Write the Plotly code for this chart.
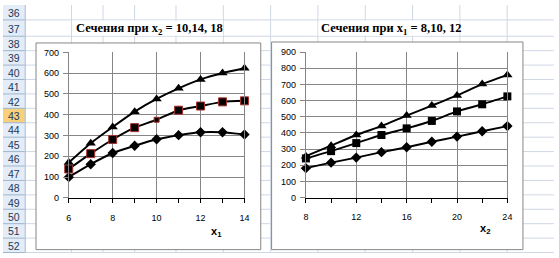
import plotly.graph_objects as go

W, H = 559, 258

# ---- data ----
# Left chart: sections at x2 = 10, 14, 18 ; argument x1
x1_vals = [6, 7, 8, 9, 10, 11, 12, 13, 14]
y_x2_10 = [100, 162, 216, 251, 282, 302, 316, 316, 305]
y_x2_14 = [139, 213, 281, 338, 376, 422, 442, 462, 467]
y_x2_18 = [170, 263, 341, 415, 476, 527, 570, 601, 624]

# Right chart: sections at x1 = 8, 10, 12 ; argument x2
x2_vals = [8, 10, 12, 14, 16, 18, 20, 22, 24]
y_x1_8 = [182, 216, 247, 281, 311, 345, 377, 410, 442]
y_x1_10 = [242, 287, 337, 387, 428, 474, 533, 577, 626]
y_x1_12 = [256, 321, 387, 442, 507, 569, 632, 702, 759]

row_numbers = list(range(36, 53))
selected_row = 43
title_left = "<b>Сечения при x<sub>2</sub> = 10,14, 18</b>"
title_right = "<b>Сечения при x<sub>1</sub> = 8,10, 12</b>"
xlabel_left = "<b>x<sub>1</sub></b>"
xlabel_right = "<b>x<sub>2</sub></b>"


def px(x):
    return x / W


def py(y):
    return 1 - y / H


shapes = []
GRID = "#d0d7e5"
HDR = "#9eb6ce"

# spreadsheet row boundaries
row_bounds = [0, 15.5, 32.5] + [32.5 + 15 * k for k in range(1, 16)]
col_lines = [69.5, 101.5, 133.5, 175.5, 223.5, 271.5, 319.5, 367.5, 415.5, 463.5, 511.5]

for x in col_lines:
    shapes.append(dict(type="line", xref="paper", yref="paper", x0=px(x), x1=px(x),
                       y0=py(0), y1=py(H), line=dict(color=GRID, width=1), layer="below"))
for y in row_bounds[1:]:
    shapes.append(dict(type="line", xref="paper", yref="paper", x0=px(22), x1=px(W),
                       y0=py(y), y1=py(y), line=dict(color=GRID, width=1), layer="below"))

# overflowing title text hides cell gridlines in row 37
for (a, b) in [(70, 223), (320, 463)]:
    shapes.append(dict(type="rect", xref="paper", yref="paper", x0=px(a), x1=px(b),
                       y0=py(16), y1=py(32), fillcolor="white", line=dict(width=0), layer="below"))

# row header column
shapes.append(dict(type="rect", xref="paper", yref="paper", x0=px(0), x1=px(22),
                   y0=py(0), y1=py(H), fillcolor="#e4ecf7", line=dict(width=0), layer="below"))
ri = selected_row - 36
shapes.append(dict(type="rect", xref="paper", yref="paper", x0=px(0), x1=px(22),
                   y0=py(row_bounds[ri]), y1=py(row_bounds[ri + 1]),
                   fillcolor="#f8cf7a", line=dict(width=0), layer="below"))
for y in row_bounds[1:]:
    shapes.append(dict(type="line", xref="paper", yref="paper", x0=px(0), x1=px(22),
                       y0=py(y), y1=py(y), line=dict(color=HDR, width=1), layer="below"))
shapes.append(dict(type="line", xref="paper", yref="paper", x0=px(22.5), x1=px(22.5),
                   y0=py(0), y1=py(H), line=dict(color=HDR, width=1), layer="below"))

# chart areas
for (x0, y0, x1, y1) in [(33.5, 39.5, 261.5, 254.5), (272.5, 38.5, 527.5, 254.5)]:
    shapes.append(dict(type="rect", xref="paper", yref="paper", x0=px(x0), x1=px(x1),
                       y0=py(y1), y1=py(y0), fillcolor="white",
                       line=dict(color="#868686", width=1), layer="below"))

annotations = []
for i, r in enumerate(row_numbers):
    yc = (row_bounds[i] + (row_bounds[i + 1] if i + 1 < len(row_bounds) else H)) / 2
    annotations.append(dict(text=str(r), xref="paper", yref="paper", x=px(11), y=py(yc + 0.5),
                            xanchor="center", yanchor="middle", showarrow=False,
                            font=dict(family="Liberation Sans", size=10.5, color="#22395a")))

annotations.append(dict(text=title_left, xref="paper", yref="paper", x=px(72), y=py(24.5),
                        xanchor="left", yanchor="middle", showarrow=False,
                        font=dict(family="Liberation Serif", size=12.5, color="black")))
annotations.append(dict(text=title_right, xref="paper", yref="paper", x=px(321), y=py(24.5),
                        xanchor="left", yanchor="middle", showarrow=False,
                        font=dict(family="Liberation Serif", size=12.5, color="black")))
annotations.append(dict(text=xlabel_left, xref="paper", yref="paper", x=px(217), y=py(236),
                        xanchor="center", yanchor="middle", showarrow=False,
                        font=dict(family="Liberation Sans", size=11, color="black")))
annotations.append(dict(text=xlabel_right, xref="paper", yref="paper", x=px(488.5), y=py(233),
                        xanchor="center", yanchor="middle", showarrow=False,
                        font=dict(family="Liberation Sans", size=11, color="black")))

fig = go.Figure()

line_style = dict(color="black", width=2, shape="spline", smoothing=0.6)

# left chart traces
fig.add_trace(go.Scatter(x=x1_vals, y=y_x2_10, mode="lines+markers", line=line_style,
                         marker=dict(symbol="diamond", size=8, color="black"),
                         cliponaxis=False, xaxis="x", yaxis="y"))
sq_sizes = [8, 8, 8, 8, 5, 8, 8, 8, 8]
fig.add_trace(go.Scatter(x=x1_vals, y=y_x2_14, mode="lines+markers", line=line_style,
                         marker=dict(symbol="square", size=sq_sizes, color="#000000",
                                     opacity=1, line=dict(color="#a8322d", width=1)),
                         cliponaxis=False, xaxis="x", yaxis="y"))
fig.add_trace(go.Scatter(x=x1_vals, y=y_x2_18, mode="lines+markers", line=line_style,
                         marker=dict(symbol="triangle-up", size=9, color="black"),
                         cliponaxis=False, xaxis="x", yaxis="y"))

# right chart traces
fig.add_trace(go.Scatter(x=x2_vals, y=y_x1_8, mode="lines+markers", line=line_style,
                         marker=dict(symbol="diamond", size=8, color="black"),
                         cliponaxis=False, xaxis="x2", yaxis="y2"))
fig.add_trace(go.Scatter(x=x2_vals, y=y_x1_10, mode="lines+markers", line=line_style,
                         marker=dict(symbol="square", size=8, color="black"),
                         cliponaxis=False, xaxis="x2", yaxis="y2"))
fig.add_trace(go.Scatter(x=x2_vals, y=y_x1_12, mode="lines+markers", line=line_style,
                         marker=dict(symbol="triangle-up", size=9, color="black"),
                         cliponaxis=False, xaxis="x2", yaxis="y2"))

tickfont = dict(family="Liberation Sans", size=9, color="black")


def xax(domain, rng, dtick, minor_dtick):
    return dict(domain=domain, range=rng, tick0=rng[0], dtick=dtick, showgrid=True,
                gridcolor="#868686", gridwidth=1, showline=True, linecolor="black",
                linewidth=1, ticks="outside", ticklen=4, tickcolor="black", tickwidth=1,
                minor=dict(dtick=minor_dtick, tick0=rng[0], ticks="outside", ticklen=4,
                           tickcolor="black", showgrid=False),
                zeroline=False, tickfont=tickfont, ticklabelstandoff=7, fixedrange=True)


def yax(domain, rng, anchor):
    return dict(domain=domain, range=rng, dtick=100, showgrid=True, gridcolor="#868686",
                gridwidth=1, showline=True, linecolor="#868686", linewidth=1, mirror=True,
                ticks="outside", ticklen=5, tickcolor="#868686", zeroline=False,
                tickfont=tickfont, ticklabelstandoff=2, anchor=anchor, fixedrange=True)


fig.update_layout(
    width=W, height=H, margin=dict(l=0, r=0, t=0, b=0),
    paper_bgcolor="white", plot_bgcolor="rgba(0,0,0,0)", showlegend=False,
    xaxis=xax([px(66.7), px(245)], [6, 14], 2, 1) | dict(anchor="y"),
    yaxis=yax([py(200.7), py(49.3)], [0, 700], "x"),
    xaxis2=xax([px(307.3), px(511.7)], [8, 24], 4, 2) | dict(anchor="y2"),
    yaxis2=yax([py(200.3), py(49)], [0, 900], "x2"),
    shapes=shapes, annotations=annotations,
)

fig.write_html("out.html")
